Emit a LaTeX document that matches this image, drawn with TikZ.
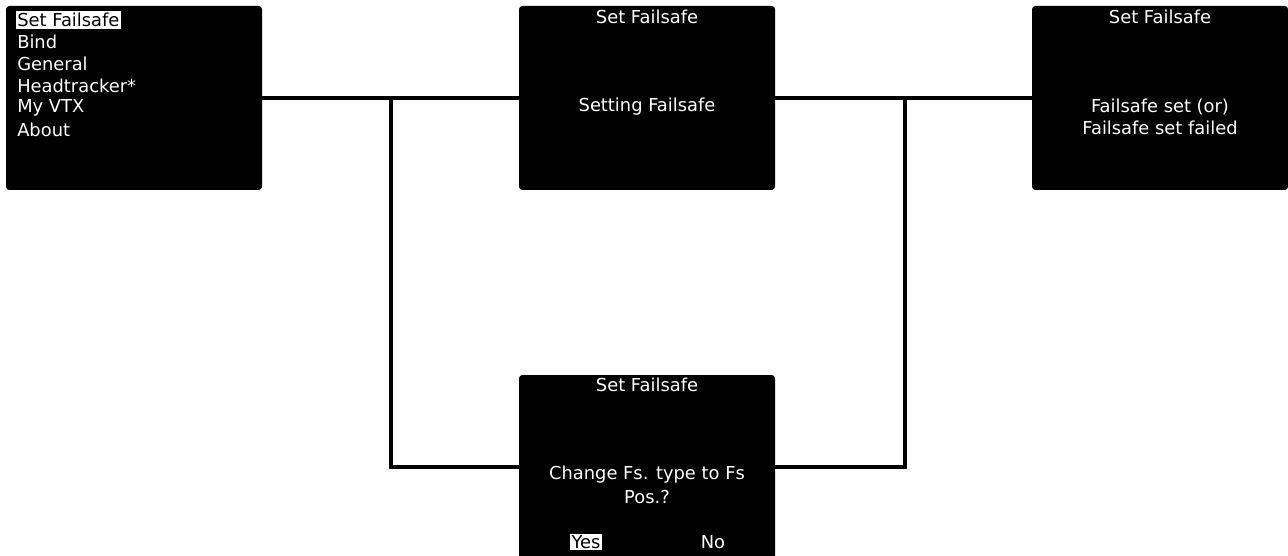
\documentclass[tikz,border=0pt]{standalone}
\usepackage{fontspec}
\setmainfont{DejaVu Sans}
\begin{document}
\begin{tikzpicture}[x=0.75pt,y=-0.75pt,
  screen/.style={fill=black,draw=none,rounded corners=2.5pt,minimum width=192pt,minimum height=138pt,inner sep=0pt},
  txt/.style={text=white,font=\fontsize{13.4pt}{15pt}\selectfont,inner sep=0pt},
  sel/.style={fill=white,text=black,font=\fontsize{13.4pt}{15pt}\selectfont,inner sep=1.2pt},
  wire/.style={draw=black,line width=2.3pt}]
\useasboundingbox (0,0) rectangle (1288,556);
\node[screen] (b1) at (134,98) {};
\node[screen] (b2) at (647,98) {};
\node[screen] (b3) at (1160,98) {};
\node[screen] (b4) at (647,467) {};
% menu
\node[sel,anchor=west] (m1) at (15.5,20) {Set Failsafe};
\node[txt,anchor=west] (m2) at (17,42) {Bind};
\node[txt,anchor=west] (m3) at (17,64) {General};
\node[txt,anchor=west] (m4) at (17,86) {Headtracker*};
\node[txt,anchor=west] (m5) at (17,108) {My VTX};
\node[txt,anchor=west] (m6) at (17,130) {About};
% box 2
\node[txt] (t2) at (647,17) {Set Failsafe};
\node[txt] (s2) at (647,107) {Setting Failsafe};
% box 3
\node[txt] (t3) at (1160,17) {Set Failsafe};
\node[txt] (s3a) at (1160,107) {Failsafe set (or)};
\node[txt] (s3b) at (1160,128) {Failsafe set failed};
% box 4
\node[txt] (t4) at (647,385) {Set Failsafe};
\node[txt] (s4a) at (647,475) {Change Fs. type to Fs};
\node[txt] (s4b) at (647,497) {Pos.?};
\node[sel] (yes) at (586,542) {Yes};
\node[txt] (no) at (713,542) {No};
% connectors
\coordinate (j1) at (391,98);
\coordinate (j2) at (905,98);
\draw[wire] (b1.east) -- (b2.west);
\draw[wire] (b2.east) -- (b3.west);
\draw[wire] (b4.west) -| (j1);
\draw[wire] (b4.east) -| (j2);
\end{tikzpicture}
\end{document}
